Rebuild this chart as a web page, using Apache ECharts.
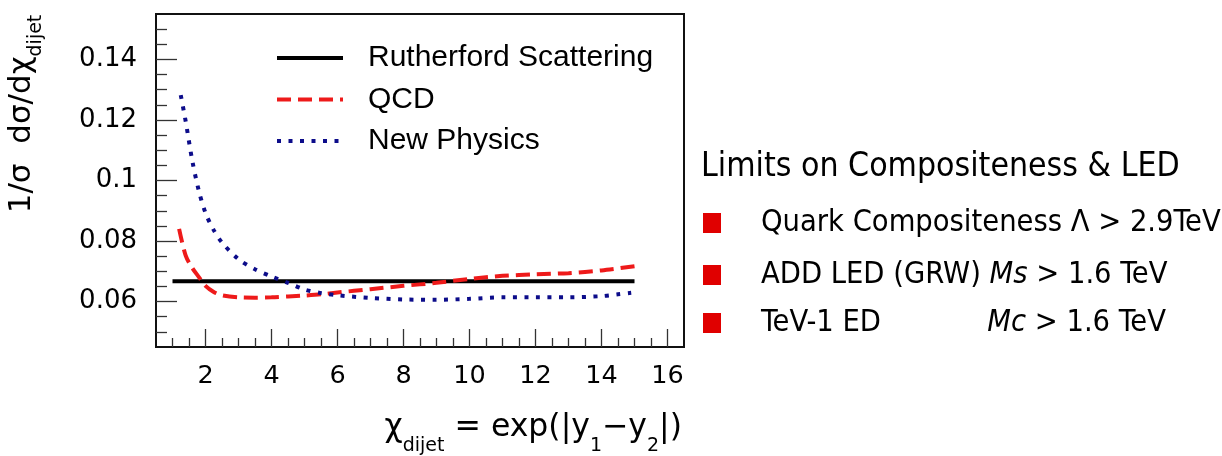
<!DOCTYPE html>
<html>
<head>
<meta charset="utf-8">
<script src="https://cdn.jsdelivr.net/npm/echarts@6/dist/echarts.min.js"></script>
<style>
  html, body { margin: 0; padding: 0; background: #ffffff; }
  #chart { width: 1222px; height: 456px; }
</style>
</head>
<body>
<div id="chart"></div>
<script>
// Normalised dijet angular distributions, 1/σ dσ/dχ versus χ_dijet
const seriesNames = ['Rutherford Scattering', 'QCD', 'New Physics'];

const rutherfordX = [1.0, 15.0];
const rutherfordY = [0.0667, 0.0667];

const qcdX = [1.2, 1.4, 1.6, 1.8, 2.0, 2.25, 2.5, 3.0, 3.5, 4.0, 4.5, 5.0, 5.5, 6.0, 7.0, 8.0, 9.0, 10.0, 11.0, 12.0, 13.0, 14.0, 15.0];
const qcdY = [0.0840, 0.0752, 0.0711, 0.0681, 0.0652, 0.0632, 0.0621, 0.0614, 0.0613, 0.0614, 0.0617, 0.0620, 0.0624, 0.0630, 0.0641, 0.0652, 0.0662, 0.0675, 0.0685, 0.0690, 0.0694, 0.0703, 0.0717];

const newPhysicsX = [1.25, 1.4, 1.6, 1.8, 2.0, 2.25, 2.5, 3.0, 3.5, 4.0, 4.5, 5.0, 5.5, 6.0, 7.0, 8.0, 9.0, 10.0, 11.0, 12.0, 13.0, 14.0, 14.5, 14.9];
const newPhysicsY = [0.1282, 0.1195, 0.1065, 0.0965, 0.0893, 0.0836, 0.0795, 0.0740, 0.0707, 0.0683, 0.0662, 0.0640, 0.0628, 0.0621, 0.0612, 0.0607, 0.0606, 0.0609, 0.0614, 0.0614, 0.0614, 0.0618, 0.0624, 0.0629];

// Axis ranges and tick labels
const xRange = [0.5, 16.5];
const yRange = [0.045, 0.155];
const xTickLabels = [2, 4, 6, 8, 10, 12, 14, 16];
const yTickLabels = [0.06, 0.08, 0.10, 0.12, 0.14];

// Limits listed beside the plot
const limitsHeading = 'Limits on Compositeness & LED';
const limitModels = ['Quark Compositeness', 'ADD LED (GRW)', 'TeV-1 ED'];
const limitScales = ['Λ', 'Ms', 'Mc'];
const limitValues = ['> 2.9TeV', '> 1.6 TeV', '> 1.6 TeV'];

// minor tick positions: every 0.5 on x, every 0.005 on y
const xMinorTicks = [];
for (let v = 1; v <= 16; v += 0.5) if (xTickLabels.indexOf(v) < 0) xMinorTicks.push(v);
const yMinorTicks = [];
for (let k = 10; k <= 30; k++) {
  const v = +(k * 0.005).toFixed(3);
  if (yTickLabels.every(t => Math.abs(t - v) > 1e-9)) yMinorTicks.push(v);
}

const zip = (xs, ys) => xs.map((x, i) => [x, ys[i]]);

const TICK_FONT = 'DejaVu Sans';
const LEGEND_FONT = 'Liberation Sans';
const SIDE_FONT = "'DejaVu Sans Condensed', 'DejaVu Sans', sans-serif";
const ROW_FONT_SIZE = 30.5;

const chart = echarts.init(document.getElementById('chart'), null, { renderer: 'canvas' });

const hiddenAxisParts = {
  axisLine: { show: false },
  splitLine: { show: false },
  axisLabel: { show: false }
};

const sideGraphics = [];
// heading
sideGraphics.push({
  type: 'text', x: 701, y: 167,
  style: { text: limitsHeading, font: '33.5px ' + SIDE_FONT, fill: '#000', align: 'left', verticalAlign: 'middle' }
});
const rowY = [223, 275, 323];
const rowRich = {
  n: { font: ROW_FONT_SIZE + 'px ' + SIDE_FONT, fill: '#000' },
  it: { font: 'italic ' + ROW_FONT_SIZE + 'px ' + SIDE_FONT, fill: '#000' }
};
limitModels.forEach((m, i) => {
  const y = rowY[i];
  sideGraphics.push({
    type: 'rect', shape: { x: 703, y: y - 10, width: 18, height: 20 },
    style: { fill: '#e00000' }
  });
  const italic = limitScales[i] !== 'Λ';
  const scaleTok = italic ? '{it|' + limitScales[i] + '}' : '{n|' + limitScales[i] + '}';
  if (i < 2) {
    sideGraphics.push({
      type: 'text', x: 761, y: y,
      style: {
        text: '{n|' + m + ' }' + scaleTok + '{n| ' + limitValues[i] + '}',
        align: 'left', verticalAlign: 'middle', rich: rowRich
      }
    });
  } else {
    sideGraphics.push({
      type: 'text', x: 761, y: y,
      style: { text: m, font: ROW_FONT_SIZE + 'px ' + SIDE_FONT, fill: '#000', align: 'left', verticalAlign: 'middle' }
    });
    sideGraphics.push({
      type: 'text', x: 1166, y: y,
      style: {
        text: scaleTok + '{n| ' + limitValues[i] + '}',
        align: 'right', verticalAlign: 'middle', rich: rowRich
      }
    });
  }
});

const option = {
  animation: false,
  backgroundColor: '#ffffff',
  grid: {
    left: 156, top: 14, right: 538, bottom: 109,
    show: true, borderColor: '#111111', borderWidth: 2, backgroundColor: 'transparent'
  },
  legend: {
    orient: 'vertical',
    left: 270, top: 38,
    itemWidth: 66, itemHeight: 20, itemGap: 11.5,
    data: seriesNames,
    itemStyle: { opacity: 0, borderWidth: 0 },
    lineStyle: { width: 4 },
    textStyle: { fontFamily: LEGEND_FONT, fontSize: 30, color: '#000', lineHeight: 30, padding: [0, 0, 0, 20] }
  },
  xAxis: [
    {
      type: 'value', min: xRange[0], max: xRange[1], position: 'bottom',
      axisLine: { show: false }, splitLine: { show: false },
      axisTick: { show: true, inside: true, length: 18, customValues: xTickLabels, lineStyle: { color: '#333', width: 1.3 } },
      axisLabel: { show: true, customValues: xTickLabels, margin: 16, fontFamily: TICK_FONT, fontSize: 25.5, color: '#000' }
    },
    Object.assign({
      type: 'value', min: xRange[0], max: xRange[1], position: 'bottom', offset: 0,
      axisTick: { show: true, inside: true, length: 9, customValues: xMinorTicks, lineStyle: { color: '#333', width: 1.3 } }
    }, hiddenAxisParts)
  ],
  yAxis: [
    {
      type: 'value', min: yRange[0], max: yRange[1], position: 'left',
      axisLine: { show: false }, splitLine: { show: false },
      axisTick: { show: true, inside: true, length: 21, customValues: yTickLabels, lineStyle: { color: '#333', width: 1.3 } },
      axisLabel: {
        show: true, customValues: yTickLabels, margin: 19, fontFamily: TICK_FONT, fontSize: 26, color: '#000',
        formatter: v => String(+v.toFixed(2))
      }
    },
    Object.assign({
      type: 'value', min: yRange[0], max: yRange[1], position: 'left', offset: 0,
      axisTick: { show: true, inside: true, length: 11, customValues: yMinorTicks, lineStyle: { color: '#333', width: 1.3 } }
    }, hiddenAxisParts)
  ],
  series: [
    {
      name: seriesNames[0], type: 'line', data: zip(rutherfordX, rutherfordY),
      showSymbol: false, symbol: 'none',
      lineStyle: { color: '#000000', width: 4 }, itemStyle: { color: '#000000' }
    },
    {
      name: seriesNames[1], type: 'line', data: zip(qcdX, qcdY),
      showSymbol: false, symbol: 'none', smooth: 0.3,
      lineStyle: { color: '#ee1a1a', width: 4, type: [14, 7] }, itemStyle: { color: '#ee1a1a' }
    },
    {
      name: seriesNames[2], type: 'line', data: zip(newPhysicsX, newPhysicsY),
      showSymbol: false, symbol: 'none', smooth: 0.3,
      lineStyle: { color: '#0c0c8a', width: 4, type: [4, 7.5] }, itemStyle: { color: '#0c0c8a' }
    }
  ],
  graphic: [
    {
      type: 'text', x: 22, y: 114, rotation: Math.PI / 2,
      style: {
        text: '{m|1/σ  dσ/dχ}{s|dijet}',
        align: 'center', verticalAlign: 'middle',
        rich: {
          m: { fontFamily: TICK_FONT, fontSize: 31, lineHeight: 48, verticalAlign: 'middle', fill: '#000' },
          s: { fontFamily: TICK_FONT, fontSize: 19, lineHeight: 19, verticalAlign: 'bottom', fill: '#000' }
        }
      }
    },
    {
      type: 'text', x: 682, y: 428,
      style: {
        text: '{m|χ}{s|dijet}{m| = exp(|y}{s|1}{m|−y}{s|2}{m||)}',
        align: 'right', verticalAlign: 'middle',
        rich: {
          m: { fontFamily: TICK_FONT, fontSize: 31.5, lineHeight: 56, verticalAlign: 'middle', fill: '#000' },
          s: { fontFamily: TICK_FONT, fontSize: 19, lineHeight: 19, verticalAlign: 'bottom', fill: '#000' }
        }
      }
    }
  ].concat(sideGraphics)
};

chart.setOption(option);
</script>
</body>
</html>
